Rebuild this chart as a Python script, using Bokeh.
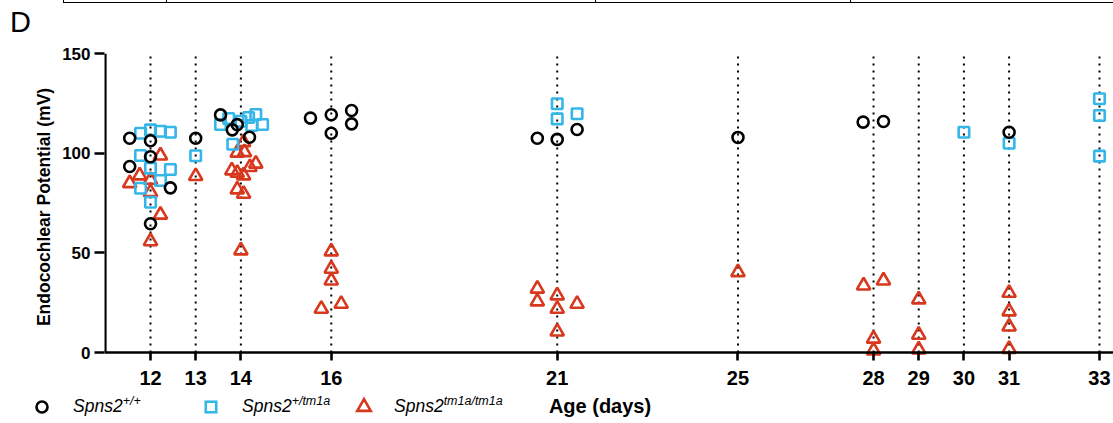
from bokeh.plotting import figure
from bokeh.models import Range1d, FixedTicker, Span, Div
from bokeh.layouts import column
from bokeh.embed import file_html
from bokeh.resources import INLINE

# ---------------- data ----------------
days = [12, 13, 14, 16, 21, 25, 28, 29, 30, 31, 33]
y_ticks = [0, 50, 100, 150]

# Spns2 +/+  (black circles)
wt_day = [12, 12, 12, 12, 12, 12, 13, 14, 14, 14, 14, 16, 16, 16, 16, 16,
          21, 21, 21, 25, 28, 28, 31]
wt_jit = [-0.46, 0, 0, -0.46, 0.44, 0, 0, -0.45, -0.08, -0.19, 0.19,
          -0.46, 0, 0.45, 0.45, 0, -0.44, 0, 0.44, 0, -0.23, 0.22, 0]
wt_ep = [107.5, 106.2, 98.2, 93.3, 82.6, 64.6, 107.5, 119.2, 114.3, 111.7, 108.0,
         117.6, 119.3, 121.4, 114.7, 110.0, 107.5, 106.9, 111.9, 107.9, 115.6, 115.9, 110.5]

# Spns2 +/tm1a  (blue squares)
het_day = [12, 12, 12, 12, 12, 12, 12, 12, 12, 12, 13,
           14, 14, 14, 14, 14, 14, 14, 14, 21, 21, 21, 30, 31, 33, 33, 33]
het_jit = [-0.22, 0, 0.22, 0.44, -0.22, 0, 0.44, 0.22, -0.22, 0, 0,
           -0.45, -0.27, 0, 0.17, 0.33, 0.24, 0.48, -0.18, 0, 0, 0.44, 0, 0, 0, 0, 0]
het_ep = [110.0, 111.7, 111.0, 110.5, 98.8, 92.5, 91.8, 86.3, 82.4, 75.4, 98.7,
          114.4, 117.4, 116.0, 117.9, 119.4, 113.9, 114.4, 104.5,
          124.8, 117.2, 119.8, 110.5, 105.0, 127.3, 118.9, 98.5]

# Spns2 tm1a/tm1a  (red triangles)
ko_day = [12, 12, 12, 12, 12, 12, 12, 13,
          14, 14, 14, 14, 14, 14, 14, 14, 14, 14, 14,
          16, 16, 16, 16, 16, 21, 21, 21, 21, 21, 21, 25,
          28, 28, 28, 28, 29, 29, 29, 31, 31, 31, 31]
ko_jit = [0.22, -0.24, 0, -0.46, 0, 0.22, 0, 0,
          0.06, -0.08, 0.08, -0.2, 0.33, 0.2, -0.08, 0.06, -0.08, 0.06, 0,
          0, 0, 0, 0.22, -0.22, -0.44, -0.44, 0, 0.44, 0, 0, 0,
          -0.22, 0.22, 0, 0, 0, 0, 0, 0, 0, 0, 0]
ko_ep = [98.8, 88.8, 86.6, 84.9, 80.4, 69.1, 55.8, 88.5,
         105.5, 100.2, 100.5, 91.3, 94.7, 93.0, 90.1, 88.8, 81.8, 79.6, 51.2,
         50.7, 42.0, 36.1, 24.4, 21.9, 32.0, 25.6, 28.6, 24.4, 21.9, 10.5, 40.3,
         33.6, 36.1, 6.9, 1.0, 26.6, 8.9, 1.5, 29.9, 20.6, 13.0, 1.8]

genotypes = ["+/+", "+/tm1a", "tm1a/tm1a"]
gene = "Spns2"
colors = ["#000000", "#35b6e9", "#d8381d"]

FONT = "Liberation Sans"
W = 1113

# ---------------- panel letter row (HTML) ----------------
stubs = "".join(
    f'<div style="position:absolute;left:{x}px;top:0px;width:0;height:3px;'
    f'border-left:1.5px solid #000"></div>' for x in [63, 166, 595, 850])
top_html = (
    f'<div style="position:relative;width:{W}px;height:42px;overflow:hidden;'
    f'font-family:\'{FONT}\';color:#000">'
    f'<div style="position:absolute;left:63px;top:2px;width:{W - 63}px;height:0;'
    f'border-top:1.5px solid #000"></div>{stubs}'
    f'<span style="position:absolute;left:10px;top:8px;font-size:29px;line-height:29px;">D</span>'
    f'</div>')
top_div = Div(text=top_html, width=W, height=42, styles={"margin": "0", "padding": "0"})

# ---------------- main plot ----------------
p = figure(width=W, height=351, x_range=Range1d(10.982, 33.31), y_range=Range1d(-4.0, 150),
           output_backend="svg", toolbar_location=None,
           min_border_left=104, min_border_right=0, min_border_top=11, min_border_bottom=33)
p.grid.visible = False
p.outline_line_color = None

# vertical dotted guides at each day
p.segment(x0=days, y0=[0] * len(days), x1=days, y1=[150] * len(days),
          line_color="black", line_width=2, line_dash="2 5")

def xs(d, j):
    return [a + b for a, b in zip(d, j)]

p.scatter(xs(ko_day, ko_jit), ko_ep, marker="triangle", size=13.5, line_width=2.6,
          line_color=colors[2], fill_color=None)
p.scatter(xs(het_day, het_jit), het_ep, marker="square", size=10.5, line_width=2.6,
          line_color=colors[1], fill_color=None)
p.scatter(xs(wt_day, wt_jit), wt_ep, marker="circle", size=11, line_width=2.6,
          line_color=colors[0], fill_color=None)

# axis lines
p.add_layout(Span(location=0, dimension="width", line_color="black", line_width=2.6))
p.segment(x0=[11.0], y0=[0], x1=[11.0], y1=[150], line_color="black", line_width=2.6)

xa = p.xaxis[0]
xa.ticker = FixedTicker(ticks=days)
xa.axis_line_color = None
xa.major_tick_in = 8
xa.major_tick_out = 0
xa.major_tick_line_width = 2.6
xa.minor_tick_line_color = None
xa.major_label_standoff = 10
xa.major_label_text_font = FONT
xa.major_label_text_font_style = "bold"
xa.major_label_text_font_size = "20px"
xa.major_label_text_color = "black"

ya = p.yaxis[0]
ya.ticker = FixedTicker(ticks=y_ticks)
ya.axis_line_color = None
ya.major_tick_in = 0
ya.major_tick_out = 10
ya.major_tick_line_width = 2.6
ya.minor_tick_line_color = None
ya.major_label_standoff = 4
ya.major_label_text_font = FONT
ya.major_label_text_font_style = "bold"
ya.major_label_text_font_size = "17px"
ya.major_label_text_color = "black"
ya.axis_label = "Endocochlear Potential (mV)"
ya.axis_label_text_font = FONT
ya.axis_label_text_font_style = "bold"
ya.axis_label_text_font_size = "17.5px"
ya.axis_label_text_color = "black"
ya.axis_label_standoff = 5

# ---------------- legend row (HTML) ----------------
LH = 30
cy = 14
mx = [42, 211, 364]
tri_r = 6.75
tri_h = tri_r * 3 ** 0.5
shapes = (
    f'<circle cx="{mx[0]}" cy="{cy}" r="5.5" fill="none" stroke="{colors[0]}" stroke-width="2.6"/>'
    f'<rect x="{mx[1] - 5.25}" y="{cy - 5.25}" width="10.5" height="10.5" fill="none" '
    f'stroke="{colors[1]}" stroke-width="2.6"/>'
    f'<polygon points="{mx[2] - tri_r},{cy + tri_h / 3} {mx[2] + tri_r},{cy + tri_h / 3} '
    f'{mx[2]},{cy - 2 * tri_h / 3}" fill="none" stroke="{colors[2]}" stroke-width="2.6"/>')
tx = [73, 242, 394]
items = "".join(
    f'<span style="position:absolute;left:{x}px;top:5px;font-size:17.5px;line-height:17.5px;'
    f'font-style:italic;white-space:nowrap">{gene}<sup style="font-size:12.5px;'
    f'vertical-align:7px;line-height:0">{g}</sup></span>'
    for x, g in zip(tx, genotypes))
legend_html = (
    f'<div style="position:relative;width:{W}px;height:{LH}px;'
    f'font-family:\'{FONT}\';color:#000">'
    f'<svg width="{W}" height="{LH}" style="position:absolute;left:0;top:0">{shapes}</svg>'
    f'{items}'
    f'<div style="position:absolute;left:500px;top:3px;width:200px;text-align:center;'
    f'font-size:20px;line-height:20px;font-weight:bold;white-space:nowrap">Age (days)</div>'
    f'</div>')
legend_div = Div(text=legend_html, width=W, height=LH, styles={"margin": "0", "padding": "0"})

layout = column(top_div, p, legend_div, spacing=0)
open("out.html", "w").write(file_html(layout, INLINE))
